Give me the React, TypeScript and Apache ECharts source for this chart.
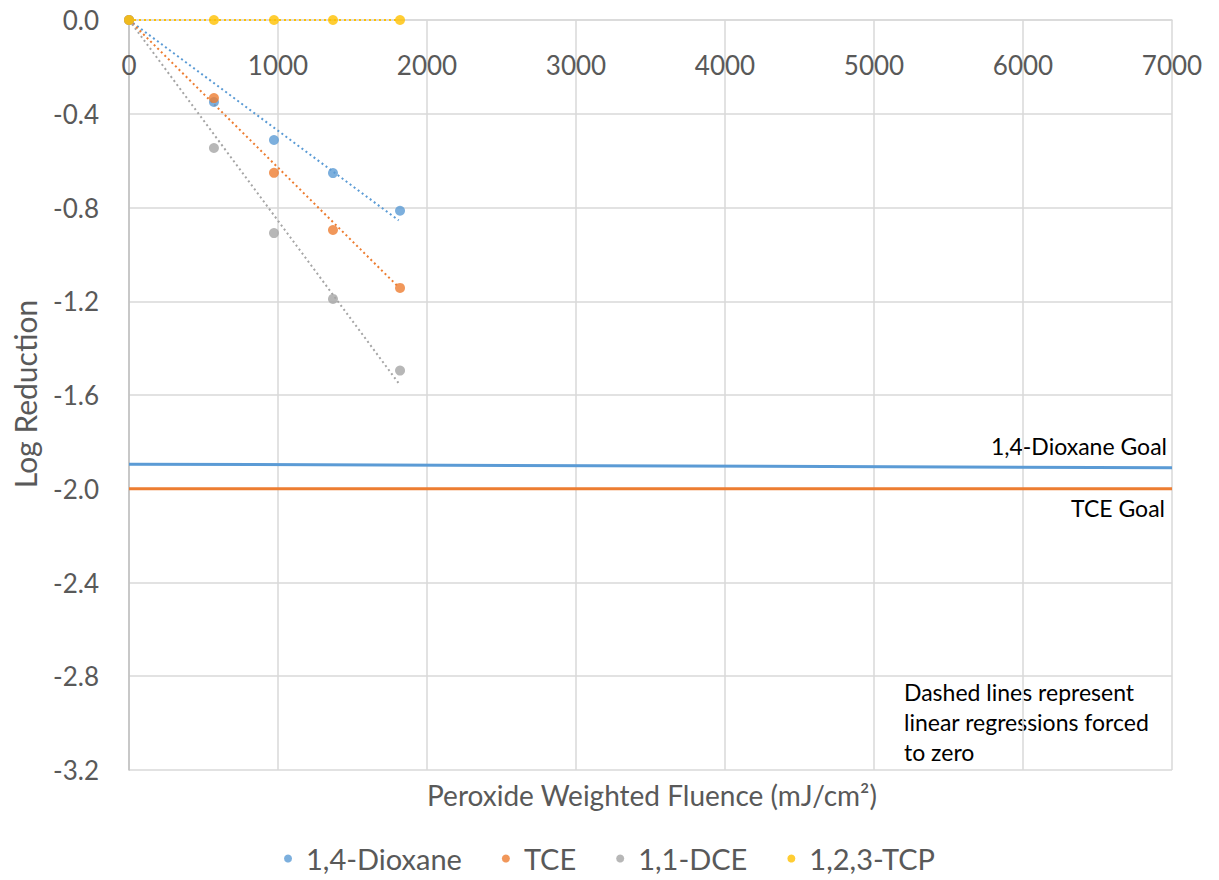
import React, { useEffect, useRef } from "react";
import * as echarts from "echarts";

const seriesNames = ["1,4-Dioxane", "TCE", "1,1-DCE", "1,2,3-TCP"];
const colors = ["#5B9BD5", "#ED7D31", "#A5A5A5", "#FFC000"];
const fluence = [0, 570, 973, 1369, 1819];
const dioxane = [0, -0.35, -0.512, -0.653, -0.814];
const tce = [0, -0.333, -0.652, -0.896, -1.143];
const dce = [0, -0.546, -0.909, -1.19, -1.496];
const tcp = [0, 0, 0, 0, 0];
const trendX = [0, 1810];
const trendDioxane = [0, -0.855];
const trendTce = [0, -1.14];
const trendDce = [0, -1.55];
const trendTcp = [0, 0];
const goalX = [0, 7000];
const dioxaneGoal = [-1.895, -1.91];
const tceGoal = [-2.0, -2.0];
const xTicks = { min: 0, max: 7000, interval: 1000 };
const yTicks = { min: -3.2, max: 0, interval: 0.4 };
const xTitle = "Peroxide Weighted Fluence (mJ/cm²)";
const yTitle = "Log Reduction";
const note = "Dashed lines represent\nlinear regressions forced\nto zero";

const FONT = "Lato, 'Open Sans', sans-serif";

export default function App() {
  const ref = useRef<HTMLDivElement>(null);
  useEffect(() => {
    if (!ref.current) return;
    const chart = echarts.init(ref.current, undefined, { renderer: "svg" });
    const measured = [dioxane, tce, dce, tcp];
    const trends = [trendDioxane, trendTce, trendDce, trendTcp];
    const pair = (xs: number[], ys: number[]) => xs.map((x, i) => [x, ys[i]]);
    const series: any[] = [];
    trends.forEach((t, i) => {
      series.push({
        type: "line",
        name: seriesNames[i] + " trend",
        data: pair(trendX, t),
        showSymbol: false,
        symbol: "none",
        lineStyle: { color: colors[i], width: 2, type: [2, 3] },
        z: 2,
        silent: true,
      });
    });
    series.push({
      type: "line",
      name: "1,4-Dioxane Goal",
      data: pair(goalX, dioxaneGoal),
      symbol: "none",
      lineStyle: { color: colors[0], width: 3 },
      z: 1,
    });
    series.push({
      type: "line",
      name: "TCE Goal",
      data: pair(goalX, tceGoal),
      symbol: "none",
      lineStyle: { color: colors[1], width: 3 },
      z: 1,
    });
    measured.forEach((m, i) => {
      series.push({
        type: "scatter",
        name: seriesNames[i],
        data: pair(fluence, m),
        symbolSize: 10,
        itemStyle: { color: colors[i] },
        z: 3,
      });
    });

    chart.setOption({
      animation: false,
      backgroundColor: "#ffffff",
      textStyle: { fontFamily: FONT },
      grid: { left: 129, right: 47, top: 20, bottom: 110, outerBoundsMode: "none", containLabel: false },
      xAxis: {
        type: "value",
        position: "top",
        min: xTicks.min,
        max: xTicks.max,
        interval: xTicks.interval,
        axisLine: { show: true, onZero: false, lineStyle: { color: "#D9D9D9", width: 1.5 } },
        axisTick: { show: false },
        axisLabel: {
          inside: true,
          fontSize: 26,
          color: "#595959",
          margin: 32,
          fontFamily: FONT,
          formatter: (v: number) => String(v),
        },
        splitLine: { show: true, lineStyle: { color: "#D9D9D9", width: 1.5 } },
      },
      yAxis: {
        type: "value",
        min: yTicks.min,
        max: yTicks.max,
        interval: yTicks.interval,
        axisLine: { show: true, onZero: false, lineStyle: { color: "#BFBFBF", width: 1.5 } },
        axisTick: { show: false },
        axisLabel: {
          fontSize: 26,
          color: "#595959",
          margin: 30,
          fontFamily: FONT,
          formatter: (v: number) => v.toFixed(1),
        },
        splitLine: { show: true, lineStyle: { color: "#D9D9D9", width: 1.5 } },
      },
      legend: {
        data: seriesNames.map((n) => ({ name: n, icon: "circle" })),
        bottom: 2,
        left: "center",
        itemWidth: 8,
        itemHeight: 8,
        itemGap: 40,
        textStyle: { fontSize: 29, color: "#595959", fontFamily: FONT, padding: [0, 0, 0, 9] },
      },
      graphic: [
        {
          type: "text",
          x: 652,
          y: 795,
          style: {
            text: xTitle,
            fontSize: 28,
            fill: "#595959",
            fontFamily: FONT,
            textAlign: "center",
            textVerticalAlign: "middle",
          },
        },
        {
          type: "text",
          x: 25,
          y: 394,
          rotation: Math.PI / 2,
          style: {
            text: yTitle,
            fontSize: 30,
            fill: "#595959",
            fontFamily: FONT,
            textAlign: "center",
            textVerticalAlign: "middle",
          },
        },
        {
          type: "text",
          x: 1167,
          y: 446,
          style: {
            text: "1,4-Dioxane Goal",
            fontSize: 23,
            fill: "#000000",
            fontFamily: FONT,
            textAlign: "right",
            textVerticalAlign: "middle",
          },
        },
        {
          type: "text",
          x: 1165,
          y: 508,
          style: {
            text: "TCE Goal",
            fontSize: 23,
            fill: "#000000",
            fontFamily: FONT,
            textAlign: "right",
            textVerticalAlign: "middle",
          },
        },
        {
          type: "text",
          x: 904,
          y: 677,
          style: {
            text: note,
            fontSize: 23,
            lineHeight: 30,
            fill: "#000000",
            fontFamily: FONT,
          },
        },
      ],
      series,
    });
    return () => chart.dispose();
  }, []);
  return (
    <div
      ref={ref}
      style={{ position: "fixed", left: 0, top: 0, width: 1219, height: 880 }}
    />
  );
}
